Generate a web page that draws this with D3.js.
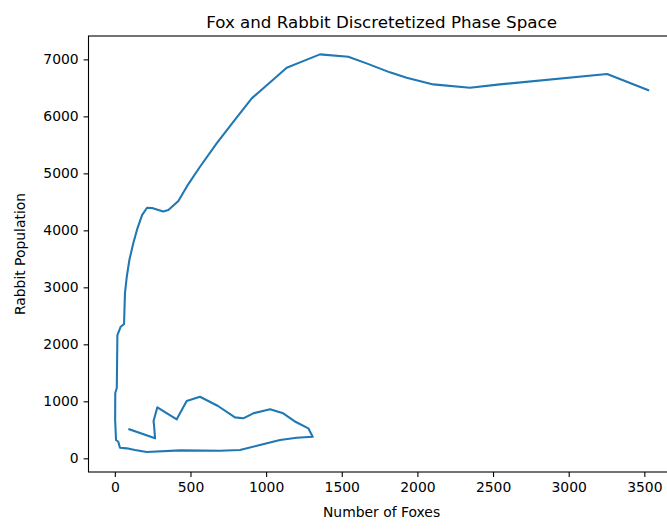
<!DOCTYPE html>
<html>
<head>
<meta charset="utf-8">
<script src="https://cdn.jsdelivr.net/npm/d3@7"></script>
<style>
  html, body { margin: 0; padding: 0; background: #fff; }
  svg { display: block; }
  text { font-family: "DejaVu Sans", sans-serif; fill: #000; }
</style>
</head>
<body>
<svg id="chart" width="667" height="529"></svg>
<script>
// Fox / rabbit trajectory, in time order
const foxes = [
  96, 266, 259, 256, 281, 409, 475, 563, 682, 794,
  849, 915, 1026, 1113, 1197, 1279, 1308, 1202, 1092, 959,
  827, 695, 431, 211, 133, 79, 34, 23, 8, 2,
  3, 13, 17, 39, 61, 67, 79, 96, 122, 150,
  180, 213, 246, 320, 354, 420, 486, 563, 673, 783,
  905, 1014, 1136, 1224, 1356, 1543, 1664, 1818, 1929, 2105,
  2347, 2545, 3254, 3525
];
const rabbits = [
  509, 351, 584, 654, 895, 684, 1005, 1081, 918, 719,
  702, 789, 860, 789, 637, 526, 379, 361, 321, 233,
  146, 133, 140, 110, 146, 175, 186, 291, 321, 672,
  1146, 1233, 2163, 2309, 2356, 2895, 3186, 3479, 3772, 4040,
  4268, 4396, 4391, 4330, 4356, 4514, 4812, 5116, 5526, 5905,
  6316, 6567, 6853, 6947, 7088, 7046, 6930, 6772, 6677, 6561,
  6502, 6561, 6742, 6461
];

// Axis limits and tick values
const xLimits = [-174, 3700];
const yLimits = [-240, 7410];
const xTicks = [0, 500, 1000, 1500, 2000, 2500, 3000, 3500];
const yTicks = [0, 1000, 2000, 3000, 4000, 5000, 6000, 7000];

const titleText = "Fox and Rabbit Discretetized Phase Space";
const xLabelText = "Number of Foxes";
const yLabelText = "Rabbit Population";

// Plot frame (the right edge runs past the canvas)
const frame = { left: 88.5, right: 674.6, top: 36, bottom: 472 };

const svg = d3.select("#chart");

const x = d3.scaleLinear().domain(xLimits).range([frame.left, frame.right]);
const y = d3.scaleLinear().domain(yLimits).range([frame.bottom, frame.top]);

const points = foxes.map((f, i) => [f, rabbits[i]]);

const line = d3.line()
  .x(d => x(d[0]))
  .y(d => y(d[1]));

svg.append("path")
  .datum(points)
  .attr("d", line)
  .attr("fill", "none")
  .attr("stroke", "#1f77b4")
  .attr("stroke-width", 2.08)
  .attr("stroke-linejoin", "round")
  .attr("stroke-linecap", "square");

// Frame
svg.append("rect")
  .attr("x", frame.left)
  .attr("y", frame.top)
  .attr("width", frame.right - frame.left)
  .attr("height", frame.bottom - frame.top)
  .attr("fill", "none")
  .attr("stroke", "#000")
  .attr("stroke-width", 1.1);

// Axes
const xAxis = d3.axisBottom(x)
  .tickValues(xTicks)
  .tickFormat(d3.format("d"))
  .tickSize(4.9)
  .tickPadding(4.9);

const yAxis = d3.axisLeft(y)
  .tickValues(yTicks)
  .tickFormat(d3.format("d"))
  .tickSize(4.9)
  .tickPadding(4.9);

const gx = svg.append("g")
  .attr("transform", `translate(0,${frame.bottom})`)
  .call(xAxis);
const gy = svg.append("g")
  .attr("transform", `translate(${frame.left},0)`)
  .call(yAxis);

[gx, gy].forEach(g => {
  g.select(".domain").remove();
  g.attr("font-family", "DejaVu Sans, sans-serif").attr("font-size", 13.9);
  g.selectAll(".tick line").attr("stroke", "#000").attr("stroke-width", 1.1);
  g.selectAll(".tick text").attr("fill", "#000");
});

// Title and axis labels
const cx = (frame.left + frame.right) / 2;

svg.append("text")
  .attr("x", cx)
  .attr("y", 27.5)
  .attr("text-anchor", "middle")
  .attr("font-size", 16.7)
  .text(titleText);

svg.append("text")
  .attr("x", cx)
  .attr("y", 517)
  .attr("text-anchor", "middle")
  .attr("font-size", 13.9)
  .text(xLabelText);

svg.append("text")
  .attr("transform", `translate(25,${(frame.top + frame.bottom) / 2}) rotate(-90)`)
  .attr("text-anchor", "middle")
  .attr("font-size", 13.9)
  .text(yLabelText);
</script>
</body>
</html>
